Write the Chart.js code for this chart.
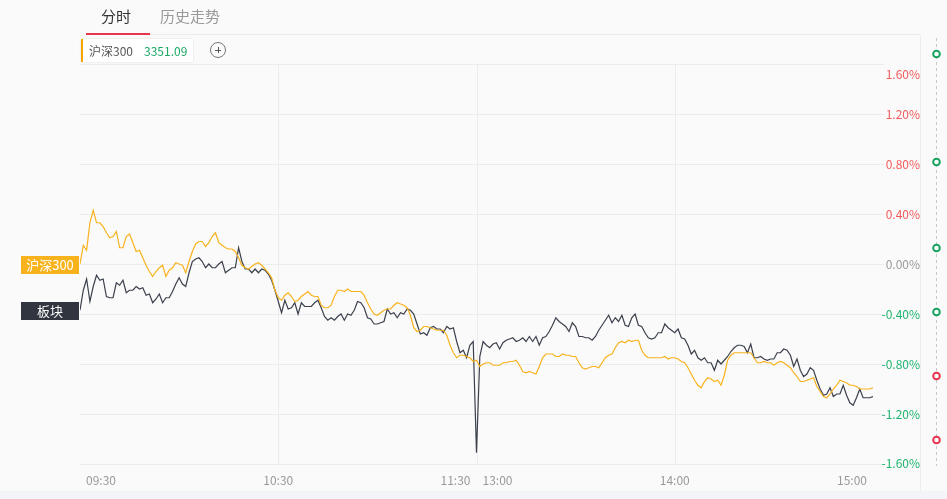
<!DOCTYPE html>
<html><head><meta charset="utf-8">
<script src="https://cdn.jsdelivr.net/npm/chart.js@4/dist/chart.umd.min.js"></script>
<style>
html,body{margin:0;padding:0;background:#fafafa;}
#wrap{position:relative;width:947px;height:499px;overflow:hidden;background:#fafafa;font-family:"Noto Sans CJK SC","Noto Sans",sans-serif;}
#c{position:absolute;left:0;top:0;}
.tab{position:absolute;top:4px;font-size:15px;line-height:24px;}
#tab1{left:101px;color:#333;}
#tab2{left:160px;color:#999;}
#underline{position:absolute;left:86px;top:33px;width:64px;height:2px;background:#e8374a;}
#topline{position:absolute;left:150px;top:34px;width:770px;height:1px;background:#ececec;}
#legend{position:absolute;left:81px;top:39px;width:110px;height:23px;background:#fff;border-left:2px solid #f7a600;box-shadow:0 0 2px rgba(0,0,0,0.12);font-size:12px;line-height:23px;}
#legend .n{position:absolute;left:6px;color:#555;}
#legend .v{position:absolute;left:61px;color:#1ba864;}
#plus{position:absolute;left:210px;top:42px;width:14px;height:14px;border:1px solid #777;border-radius:50%;}
#plus:before{content:"";position:absolute;left:4px;top:6.5px;width:6px;height:1px;background:#555;}
#plus:after{content:"";position:absolute;left:6.5px;top:4px;width:1px;height:6px;background:#555;}
#bottom{position:absolute;left:0;top:491px;width:947px;height:8px;background:#f3f4f8;}
</style></head>
<body><div id="wrap">
<canvas id="c" width="947" height="499"></canvas>
<div class="tab" id="tab1">分时</div>
<div class="tab" id="tab2">历史走势</div>
<div id="topline"></div>
<div id="underline"></div>
<div id="legend"><span class="n">沪深300</span><span class="v">3351.09</span></div>
<div id="plus"></div>
<div id="bottom"></div>
</div>
<script>
// ---- data (percent change, one point per minute, 09:30..11:30 then 13:00..15:00) ----
const hs300Morning = [
0.00,0.15,0.11,0.33,0.43,0.33,0.33,0.30,0.25,0.21,
0.22,0.26,0.13,0.13,0.22,0.24,0.17,0.10,0.11,0.05,
-0.01,-0.06,-0.10,-0.06,-0.03,-0.01,-0.10,-0.05,-0.03,0.01,
0.00,-0.01,-0.07,0.02,0.10,0.16,0.18,0.18,0.14,0.17,
0.22,0.25,0.17,0.15,0.13,0.12,0.12,0.10,0.05,-0.01,
-0.03,-0.04,-0.02,0.00,0.01,-0.01,-0.04,-0.07,-0.11,-0.21,
-0.27,
-0.29,-0.25,-0.23,-0.26,-0.30,-0.29,-0.26,-0.24,-0.22,-0.25,
-0.26,-0.26,-0.33,-0.35,-0.35,-0.33,-0.26,-0.21,-0.21,-0.22,
-0.20,-0.22,-0.22,-0.22,-0.22,-0.25,-0.31,-0.36,-0.40,-0.41,
-0.39,-0.37,-0.36,-0.36,-0.33,-0.31,-0.32,-0.33,-0.35,-0.41,
-0.51,-0.54,-0.53,-0.50,-0.50,-0.51,-0.52,-0.53,-0.53,-0.53,
-0.57,-0.65,-0.71,-0.75,-0.73,-0.73,-0.74,-0.75,-0.78,
-0.77];
const hs300Afternoon = [
-0.82,-0.80,-0.79,-0.79,-0.81,-0.81,-0.81,-0.79,-0.79,-0.78,
-0.78,-0.77,-0.81,-0.86,-0.87,-0.86,-0.87,-0.88,-0.82,-0.75,
-0.72,-0.72,-0.72,-0.74,-0.74,-0.72,-0.73,-0.73,-0.74,-0.74,
-0.79,-0.83,-0.84,-0.83,-0.82,-0.82,-0.83,-0.79,-0.75,-0.73,
-0.72,-0.67,-0.63,-0.62,-0.63,-0.61,-0.62,-0.61,-0.61,-0.69,
-0.73,-0.75,-0.75,-0.75,-0.75,
-0.75,-0.74,-0.76,-0.75,-0.75,-0.76,-0.78,-0.79,-0.83,-0.88,
-0.93,-0.97,-0.99,-0.94,-0.91,-0.92,-0.94,-0.93,-0.97,-0.89,
-0.77,-0.73,-0.71,-0.71,-0.71,-0.71,-0.71,-0.71,-0.75,-0.79,
-0.79,-0.78,-0.79,-0.79,-0.81,-0.79,-0.78,-0.79,-0.81,-0.83,
-0.87,-0.90,-0.94,-0.94,-0.93,-0.92,-0.91,-0.98,-1.02,-1.06,
-1.07,-1.04,-1.00,-0.97,-0.93,-0.94,-0.95,-0.97,-0.97,-0.98,
-1.00,-1.00,-1.00,-1.00,-0.99];
const sectorMorning = [
-0.37,-0.21,-0.12,-0.30,-0.18,-0.09,-0.13,-0.12,-0.26,-0.27,
-0.27,-0.15,-0.17,-0.13,-0.23,-0.21,-0.21,-0.18,-0.20,-0.19,
-0.25,-0.24,-0.31,-0.28,-0.24,-0.31,-0.27,-0.27,-0.22,-0.16,
-0.11,-0.16,-0.18,-0.07,0.02,0.04,0.05,0.02,-0.03,0.00,
-0.03,-0.03,0.00,0.02,-0.07,-0.05,-0.03,-0.03,0.13,0.02,
-0.04,-0.04,-0.07,-0.04,-0.07,-0.04,-0.05,-0.08,-0.13,-0.21,
-0.30,
-0.39,-0.29,-0.36,-0.35,-0.31,-0.40,-0.31,-0.34,-0.34,-0.34,
-0.31,-0.29,-0.35,-0.42,-0.45,-0.43,-0.45,-0.42,-0.40,-0.45,
-0.40,-0.41,-0.37,-0.30,-0.31,-0.35,-0.43,-0.44,-0.48,-0.48,
-0.47,-0.46,-0.36,-0.40,-0.39,-0.43,-0.39,-0.40,-0.36,-0.37,
-0.40,-0.48,-0.56,-0.55,-0.57,-0.51,-0.50,-0.52,-0.52,-0.55,
-0.50,-0.52,-0.51,-0.62,-0.71,-0.69,-0.75,-0.65,-0.62,
-1.51];
const sectorAfternoon = [
-0.74,-0.62,-0.65,-0.67,-0.64,-0.63,-0.68,-0.63,-0.61,-0.60,
-0.59,-0.62,-0.61,-0.59,-0.62,-0.58,-0.62,-0.58,-0.65,-0.59,
-0.58,-0.54,-0.49,-0.43,-0.46,-0.48,-0.50,-0.54,-0.47,-0.50,
-0.58,-0.58,-0.59,-0.59,-0.61,-0.58,-0.53,-0.49,-0.45,-0.41,
-0.47,-0.43,-0.46,-0.41,-0.49,-0.50,-0.43,-0.40,-0.49,-0.50,
-0.55,-0.59,-0.60,-0.59,-0.55,
-0.55,-0.48,-0.51,-0.53,-0.55,-0.52,-0.59,-0.60,-0.65,-0.72,
-0.69,-0.75,-0.77,-0.75,-0.79,-0.79,-0.85,-0.77,-0.80,-0.77,
-0.74,-0.70,-0.67,-0.65,-0.65,-0.66,-0.71,-0.64,-0.75,-0.75,
-0.74,-0.76,-0.77,-0.76,-0.76,-0.71,-0.71,-0.68,-0.69,-0.73,
-0.82,-0.76,-0.85,-0.90,-0.88,-0.83,-0.85,-0.93,-1.00,-1.05,
-1.04,-0.99,-1.06,-1.04,-1.04,-0.97,-1.05,-1.11,-1.13,-1.07,
-1.00,-1.07,-1.07,-1.07,-1.06];

const seriesNames = ['沪深300','板块'];
const hs300 = hs300Morning.concat(hs300Afternoon);
const sector = sectorMorning.concat(sectorAfternoon);

// tick labels
const yTickValues = [1.6,1.2,0.8,0.4,0,-0.4,-0.8,-1.2,-1.6];
const yTickLabels = ['1.60%','1.20%','0.80%','0.40%','0.00%','-0.40%','-0.80%','-1.20%','-1.60%'];
const xTickMinutes = [0,60,120,120,180,240];
const xTickLabels = ['09:30','10:30','11:30','13:00','14:00','15:00'];
const xTickAlign = ['left','center','right','left','center','right'];
const xGridMinutes = [60,120,180];

const ORANGE = '#f8b21c', DARK = '#3b404c';
const RED = '#f45a5a', GREEN = '#1fb46e', GRAY = '#999';
const FONT = '"Noto Sans CJK SC","Noto Sans",sans-serif';

const overlay = {
  id:'overlay',
  beforeDatasetsDraw(chart){
    const {ctx, chartArea:a, scales:{x,y}} = chart;
    ctx.save();
    ctx.strokeStyle = '#ececec'; ctx.lineWidth = 1;
    yTickValues.forEach(v=>{
      const py = Math.round(y.getPixelForValue(v))+0.5;
      ctx.beginPath(); ctx.moveTo(a.left,py); ctx.lineTo(a.right+11,py); ctx.stroke();
    });
    xGridMinutes.forEach(m=>{
      const px = Math.round(x.getPixelForValue(m))+0.5;
      ctx.beginPath(); ctx.moveTo(px,a.top); ctx.lineTo(px,a.bottom); ctx.stroke();
    });
    ctx.beginPath(); ctx.moveTo(920.5,36); ctx.lineTo(920.5,491); ctx.stroke();
    ctx.restore();
  },
  afterDatasetsDraw(chart){
    const {ctx, chartArea:a, scales:{x,y}} = chart;
    ctx.save();
    ctx.font = '12px '+FONT;
    ctx.textAlign = 'right'; ctx.textBaseline = 'middle';
    yTickValues.forEach((v,i)=>{
      let py = y.getPixelForValue(v);
      if(i===0) py += 10;
      if(i===yTickValues.length-1) py -= 1;
      ctx.fillStyle = v>0 ? RED : (v<0 ? GREEN : GRAY);
      ctx.fillText(yTickLabels[i], 920, py);
    });
    ctx.fillStyle = GRAY;
    xTickMinutes.forEach((m,i)=>{
      const px = x.getPixelForValue(m);
      const al = xTickAlign[i];
      ctx.textAlign = al;
      const dx = al==='left'?6:(al==='right'?-6:0);
      ctx.fillText(xTickLabels[i], px+dx, a.bottom+16);
    });
    const starts = [[hs300[0],ORANGE,seriesNames[0]],[sector[0],'#30353f',seriesNames[1]]];
    starts.forEach(([v,col,name])=>{
      const py = Math.round(y.getPixelForValue(v));
      ctx.fillStyle = col;
      ctx.fillRect(21, py-8, 58, 18);
      ctx.fillStyle = '#fff';
      ctx.font = '13px '+FONT;
      ctx.textAlign = 'center';
      ctx.fillText(name, 50, py+1);
    });
    ctx.strokeStyle = '#c8c8c8'; ctx.lineWidth = 1; ctx.setLineDash([3,3]);
    ctx.beginPath(); ctx.moveTo(936.5,38); ctx.lineTo(936.5,466); ctx.stroke();
    ctx.setLineDash([]);
    const marks = [[54,'#16a35f'],[162,'#16a35f'],[248,'#16a35f'],[312,'#16a35f'],[376,'#e8334a'],[440,'#e8334a']];
    marks.forEach(([my,c])=>{
      ctx.beginPath(); ctx.arc(936.5,my,3.3,0,Math.PI*2);
      ctx.fillStyle='#fff'; ctx.fill();
      ctx.lineWidth=2; ctx.strokeStyle=c; ctx.stroke();
    });
    ctx.restore();
  }
};

new Chart(document.getElementById('c'), {
  type:'line',
  data:{ datasets:[
    {label:seriesNames[0], data:hs300.map((v,i)=>({x:i,y:v})), borderColor:ORANGE, borderWidth:1.2, pointRadius:0, tension:0},
    {label:seriesNames[1], data:sector.map((v,i)=>({x:i,y:v})), borderColor:DARK, borderWidth:1.2, pointRadius:0, tension:0}
  ]},
  options:{
    responsive:false, animation:false,
    layout:{padding:{left:80, top:64, right:74, bottom:35}},
    plugins:{legend:{display:false}, tooltip:{enabled:false}},
    scales:{
      x:{type:'linear', min:0, max:240, display:false},
      y:{min:-1.6, max:1.6, display:false}
    }
  },
  plugins:[overlay]
});
</script>
</body></html>
